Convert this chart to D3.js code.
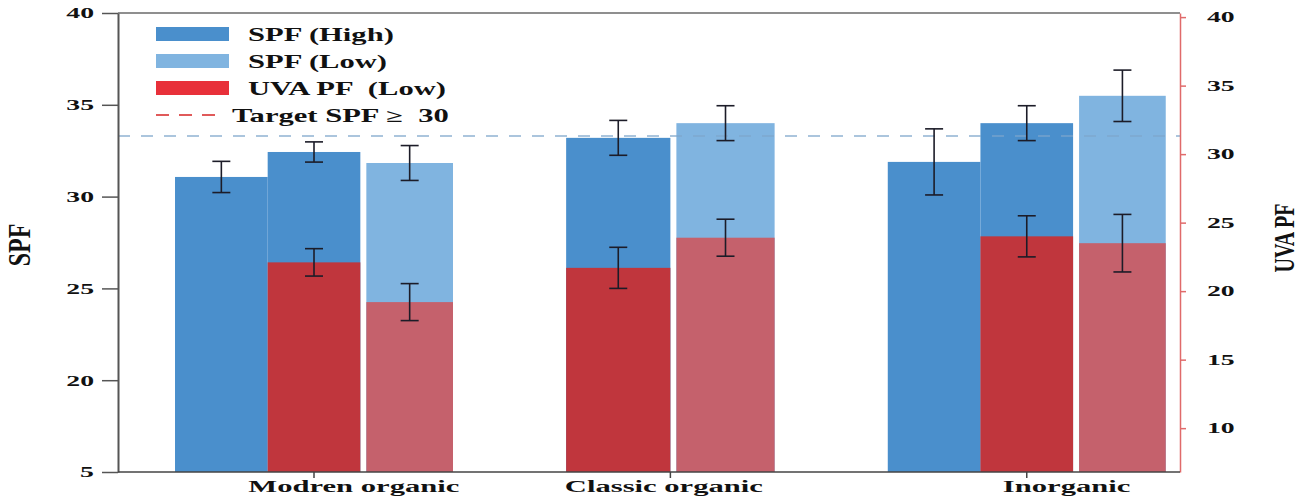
<!DOCTYPE html>
<html>
<head>
<meta charset="utf-8">
<script src="https://cdn.jsdelivr.net/npm/d3@7"></script>
<style>
  body { margin: 0; background: #fff; }
  svg { display: block; }
</style>
</head>
<body>
<svg id="chart"></svg>
<script>
// categories and bars
const categories = ["Modren organic", "Classic organic", "Inorganic"];
const barCategory = ["Modren organic", "Modren organic", "Modren organic",
  "Classic organic", "Classic organic",
  "Inorganic", "Inorganic", "Inorganic"];
const barSeries = ["high", "high", "low", "high", "low", "high", "high", "low"];

// SPF on the left axis
const spfValues = [31.07, 32.43, 31.83, 33.2, 34.0, 31.89, 34.0, 35.49];
const spfErrors = [0.85, 0.55, 0.95, 0.95, 0.95, 1.8, 0.95, 1.4];
// UVA PF on the right axis
const uvaValues = [null, 22.1, 19.2, 21.7, 23.9, null, 24.0, 23.5];
const uvaErrors = [null, 1.0, 1.35, 1.5, 1.35, null, 1.5, 2.1];

const targetSpf = 33.3;

const leftTicks = [15, 20, 25, 30, 35, 40];
const leftTickLabels = ["5", "20", "25", "30", "35", "40"];
const rightTicks = [10, 15, 20, 25, 30, 35, 40];

const legendLabels = ["SPF (High)", "SPF (Low)", "UVA PF  (Low)", "Target SPF \u2265  30"];

const width = 1312, height = 497;
const plotLeft = 118, plotRight = 1180, plotTop = 13, plotBottom = 472;

const spfColor = { high: "#4a8fcc", low: "#80b4e0" };
const uvaColor = { high: "#c0363d", low: "#c5616c" };
const font = "'Liberation Serif', 'Times New Roman', serif";

const svg = d3.select("#chart")
  .attr("width", width)
  .attr("height", height);

const x0 = d3.scaleBand()
  .domain(categories)
  .range([plotLeft, plotRight])
  .paddingInner(0.22)
  .paddingOuter(0.1)
  .align(0.8);

const yL = d3.scaleLinear().domain([15, 40]).range([plotBottom, plotTop]);
const yR = d3.scaleLinear().domain([6.8, 40.3]).range([plotBottom, plotTop]);

const bars = spfValues.map((v, i) => ({
  i: i, cat: barCategory[i], series: barSeries[i],
  spf: v, spfErr: spfErrors[i], uva: uvaValues[i], uvaErr: uvaErrors[i]
}));

// inner band per category, centred in the group band
const inner = {};
categories.forEach(c => {
  const ids = bars.filter(b => b.cat === c).map(b => b.i);
  const w = x0.bandwidth() * (ids.length + 1) / 4;
  const cx = x0(c) + x0.bandwidth() / 2;
  inner[c] = d3.scaleBand().domain(ids).range([cx - w / 2, cx + w / 2]);
});
const gap = 6;
bars.forEach(b => {
  const s = inner[b.cat];
  const g = b.series === "low" ? gap : 0;
  b.x = s(b.i) + g;
  b.w = s.bandwidth() - g;
  b.cx = b.x + b.w / 2;
});

// frame top line
svg.append("line")
  .attr("x1", plotLeft).attr("x2", plotRight)
  .attr("y1", plotTop).attr("y2", plotTop)
  .attr("stroke", "#6a6a6a")
  .attr("stroke-width", 1.5);

// SPF bars
svg.append("g")
  .selectAll("rect")
  .data(bars)
  .enter()
  .append("rect")
  .attr("x", d => d.x)
  .attr("y", d => yL(d.spf))
  .attr("width", d => d.w)
  .attr("height", d => plotBottom - yL(d.spf))
  .attr("fill", d => spfColor[d.series]);

// UVA PF bars
const uvaBars = bars.filter(d => d.uva !== null);
svg.append("g")
  .selectAll("rect")
  .data(uvaBars)
  .enter()
  .append("rect")
  .attr("x", d => d.x)
  .attr("y", d => yR(d.uva))
  .attr("width", d => d.w)
  .attr("height", d => plotBottom - yR(d.uva))
  .attr("fill", d => uvaColor[d.series]);

// target line
svg.append("line")
  .attr("x1", plotLeft).attr("x2", plotRight)
  .attr("y1", yL(targetSpf)).attr("y2", yL(targetSpf))
  .attr("stroke", "#7ea7cc")
  .attr("stroke-width", 1.6)
  .attr("stroke-dasharray", "12,11")
  .attr("opacity", 0.85);

// error bars
function errorBars(data, val, err, y) {
  const g = svg.append("g")
    .attr("stroke", "#1c1c28")
    .attr("stroke-width", 1.6);
  data.forEach(d => {
    const y1 = y(d[val] + d[err]), y2 = y(d[val] - d[err]);
    g.append("line").attr("x1", d.cx).attr("x2", d.cx).attr("y1", y1).attr("y2", y2);
    g.append("line").attr("x1", d.cx - 9).attr("x2", d.cx + 9).attr("y1", y1).attr("y2", y1);
    g.append("line").attr("x1", d.cx - 9).attr("x2", d.cx + 9).attr("y1", y2).attr("y2", y2);
  });
}
errorBars(bars, "spf", "spfErr", yL);
errorBars(uvaBars, "uva", "uvaErr", yR);

// left axis
const axL = svg.append("g")
  .attr("transform", "translate(" + plotLeft + ",0)")
  .call(d3.axisLeft(yL).tickValues(leftTicks)
    .tickFormat((d, i) => leftTickLabels[i])
    .tickSize(16).tickPadding(8).tickSizeOuter(0));
axL.select(".domain").attr("stroke", "#555").attr("stroke-width", 2);
axL.selectAll(".tick line").attr("stroke", "#555").attr("stroke-width", 1.5);
axL.selectAll(".tick text")
  .attr("x", 0)
  .attr("transform", "translate(-24,0) scale(1.85,1)")
  .style("font-family", font).style("font-weight", "bold").style("font-size", "15px")
  .attr("fill", "#111");

// right axis
const axR = svg.append("g")
  .attr("transform", "translate(" + plotRight + ",0)")
  .call(d3.axisRight(yR).tickValues(rightTicks)
    .tickSize(6).tickPadding(21).tickSizeOuter(0));
axR.select(".domain").attr("stroke", "#e06a6a").attr("stroke-width", 1.5);
axR.selectAll(".tick line").attr("stroke", "#e06a6a").attr("stroke-width", 1.5);
axR.selectAll(".tick text")
  .attr("x", 0)
  .attr("transform", "translate(27,0) scale(1.85,1)")
  .style("font-family", font).style("font-weight", "bold").style("font-size", "15px")
  .attr("fill", "#111");

// bottom axis
const axB = svg.append("g")
  .attr("transform", "translate(0," + plotBottom + ")")
  .call(d3.axisBottom(x0).tickSize(6).tickSizeOuter(0).tickFormat(""));
axB.select(".domain").attr("stroke", "#444").attr("stroke-width", 1.5)
  .attr("d", "M" + plotLeft + ",0H" + plotRight);
axB.selectAll(".tick line").attr("stroke", "#444").attr("stroke-width", 1.5);

// category labels, roughly under the bars that carry UVA PF
categories.forEach(c => {
  const cx = d3.mean(uvaBars.filter(b => b.cat === c), b => b.cx) - 8;
  svg.append("text")
    .attr("transform", "translate(" + cx + "," + (plotBottom + 20) + ") scale(1.8,1)")
    .attr("text-anchor", "middle")
    .style("font-family", font).style("font-weight", "bold").style("font-size", "17px")
    .attr("fill", "#111")
    .text(c);
});

// axis titles
svg.append("text")
  .attr("transform", "translate(30,245) scale(1.3,1) rotate(-90)")
  .attr("text-anchor", "middle")
  .style("font-family", font).style("font-weight", "bold").style("font-size", "24px")
  .attr("fill", "#111")
  .text("SPF");

svg.append("text")
  .attr("transform", "translate(1294,238) scale(1.5,1) rotate(-90)")
  .attr("text-anchor", "middle")
  .style("font-family", font).style("font-weight", "bold").style("font-size", "20px")
  .attr("fill", "#111")
  .text("UVA PF");

// legend
const legendFill = [spfColor.high, spfColor.low, "#e8303a", null];
const legend = svg.append("g").attr("transform", "translate(156,34)");
legendLabels.forEach((lab, i) => {
  const ly = i * 27;
  if (legendFill[i]) {
    legend.append("rect")
      .attr("x", 0).attr("y", ly - 7)
      .attr("width", 73).attr("height", 14)
      .attr("fill", legendFill[i]);
  } else {
    legend.append("line")
      .attr("x1", 0).attr("x2", 68)
      .attr("y1", ly).attr("y2", ly)
      .attr("stroke", "#e05a5a")
      .attr("stroke-width", 2)
      .attr("stroke-dasharray", "13,10");
  }
  legend.append("text")
    .attr("transform", "translate(" + (legendFill[i] ? 92 : 76) + "," + (ly + 7) + ") scale(1.7,1)")
    .style("font-family", font).style("font-weight", "bold").style("font-size", "18px")
    .style("white-space", "pre")
    .attr("fill", "#111")
    .text(lab);
});
</script>
</body>
</html>
